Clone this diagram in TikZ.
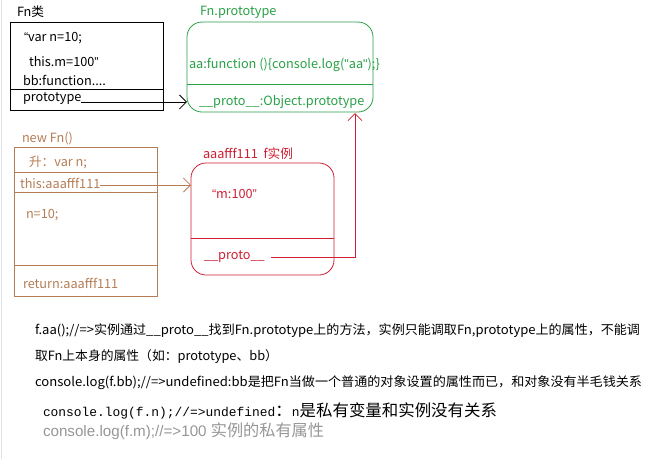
\documentclass[tikz,border=0pt]{standalone}
\usepackage{fontspec}
\usepackage{graphicx}
\setmainfont{Noto Sans CJK SC}
\newfontfamily\lsans{Liberation Sans}
\newfontfamily\lmono{Liberation Mono}
\usetikzlibrary{arrows.meta}
\definecolor{fgreen}{RGB}{40,160,70}
\definecolor{fred}{RGB}{205,30,50}
\definecolor{fbrown}{RGB}{180,125,85}
\definecolor{fgray}{RGB}{150,150,150}
\definecolor{edgegray}{RGB}{222,226,232}
\newcommand{\myLq}{{\lsans “}}
\newcommand{\myRq}{{\lsans ”}}
\newcommand{\mySq}{{\lsans "}}
\newcommand{\fitw}[2]{\resizebox{#1}{\height}{#2}}
\begin{document}
\begin{tikzpicture}[x=1pt,y=-1pt,
  every node/.style={inner sep=0pt,outer sep=0pt},
  lbl/.style={anchor=west,font=\fontsize{12.7}{14}\selectfont},
  txt/.style={anchor=west,font=\fontsize{12.75}{15}\selectfont},
  boxline/.style={line width=0.8pt},
  barb/.style={-{Straight Barb[length=7pt,width=14pt]},line width=0.8pt}]
\useasboundingbox (0,0) rectangle (668,459);
\draw[edgegray,line width=1.2pt] (1.5,0) -- (1.5,459);

% ---------- Fn class box ----------
\node[draw=black,boxline,minimum width=153pt,minimum height=88pt,anchor=north west] (fnbox) at (10.5,22) {};
\draw[boxline] (10.5,89) -- (163.5,89);
\node[lbl] (fnlabel) at (17,12) {Fn类};
\node[lbl] (varn) at (24,38) {\myLq var n=10;};
\node[lbl] (thism) at (29,62) {this.m=100\myRq};
\node[lbl] (bbfn) at (23,80) {bb:function....};
\node[lbl] (proto) at (23,99) {prototype};

% ---------- Fn.prototype box ----------
\node[draw=fgreen,boxline,rounded corners=15pt,minimum width=186pt,minimum height=90pt,anchor=north west] (pbox) at (187,22) {};
\draw[fgreen,boxline] (187,84) -- (373,84);
\node[lbl,text=fgreen] (plabel) at (200,12) {Fn.prototype};
\node[lbl,text=fgreen] (aafn) at (189,65) {aa:function ()\{console.log(\mySq aa\mySq);\}};
\node[lbl,text=fgreen] (pproto) at (199,102) {\_\_proto\_\_:Object.prototype};

% ---------- new Fn() box ----------
\node[draw=fbrown,boxline,minimum width=143pt,minimum height=149pt,anchor=north west] (newbox) at (14,147) {};
\draw[fbrown,boxline] (14,172) -- (157,172);
\draw[fbrown,boxline] (14,192) -- (157,192);
\draw[fbrown,boxline] (14,265) -- (157,265);
\node[lbl,text=fbrown] (newlabel) at (22,139) {new Fn()};
\node[lbl,text=fbrown] (hoist) at (29,162) {升：var n;};
\node[lbl,text=fbrown] (thisref) at (20,183) {this:aaafff111};
\node[lbl,text=fbrown] (n10) at (26,215) {n=10;};
\node[lbl,text=fbrown] (ret) at (23,283) {return:aaafff111};

% ---------- instance box ----------
\node[draw=fred,boxline,rounded corners=15pt,minimum width=143pt,minimum height=112pt,anchor=north west] (ibox) at (191,163) {};
\draw[fred,boxline] (191,238) -- (334,238);
\node[lbl,text=fred] (ilabel) at (203,154) {aaafff111\ \ f实例};
\node[lbl,text=fred] (m100) at (212,194) {\myLq m:100\myRq};
\node[lbl,text=fred] (iproto) at (204,257) {\_\_proto\_\_};
\coordinate (pend) at (355,113);

% ---------- connectors ----------
\draw[barb,black] (proto.base east) -- (proto.base east -| pbox.west);
\draw[barb,fbrown] ([yshift=-2pt]thisref.east) -- ([yshift=-2pt]thisref.east -| ibox.west);
\draw[barb,fred] ([xshift=6pt]iproto.east) -| (pend);

% ---------- notes ----------
\node[txt] (l1) at (35,331) {\fitw{605pt}{f.aa();//=>实例通过\_\_proto\_\_找到Fn.prototype上的方法，实例只能调取Fn,prototype上的属性，不能调}};
\node[txt] (l2) at (35,357) {\fitw{243pt}{取Fn上本身的属性（如：prototype、bb）}};
\node[txt] (l3) at (35,383) {\fitw{607pt}{console.log(f.bb);//=>undefined:bb是把Fn当做一个普通的对象设置的属性而已，和对象没有半毛钱关系}};
\node[anchor=west] (l4) at (43,411) {\fitw{454pt}{{\lmono\fontsize{12.8}{15}\selectfont console.log(f.n);//=>undefined}{\fontsize{16.3}{18}\selectfont ：}{\lmono\fontsize{12.8}{15}\selectfont n}{\fontsize{16.3}{18}\selectfont 是私有变量和实例没有关系}}};
\node[anchor=west,text=fgray] (l5) at (43,431) {\fitw{281pt}{{\lsans\fontsize{15.3}{17}\selectfont console.log(f.m);//=>100 }{\fontsize{16.3}{18}\selectfont 实例的私有属性}}};
\end{tikzpicture}
\end{document}
